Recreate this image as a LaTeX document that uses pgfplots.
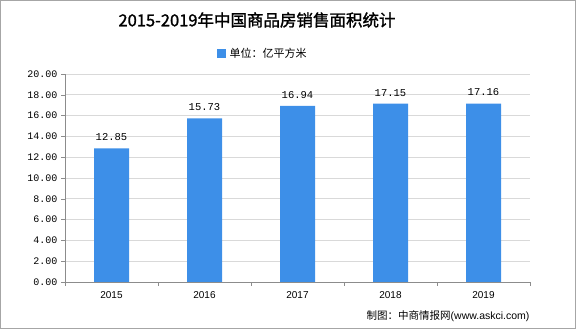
\documentclass[border=0pt]{standalone}
\usepackage{pgfplots}
\pgfplotsset{compat=1.18}
\usepackage{fontspec}
\setmainfont{Liberation Sans}
\newfontfamily\cjk{Noto Sans CJK SC}
\newfontfamily\cjkb[FakeBold=1.5]{Noto Sans CJK SC}
\newfontfamily\num{Liberation Mono}
\definecolor{barc}{HTML}{3D8FE8}
\definecolor{gridc}{HTML}{D9D9D9}
\definecolor{axc}{HTML}{8C8C8C}
\begin{document}
\begin{tikzpicture}[x=1pt,y=1pt]
\draw[color=gray!70, line width=1pt] (0.5,0.5) rectangle (575.5,328.5);
\node[font=\cjkb\fontsize{16.5}{18}\selectfont] at (257,309) {2015-2019年中国商品房销售面积统计};
\fill[barc] (217,271) rectangle (226,280);
\node[font=\cjk\fontsize{11}{12}\selectfont, anchor=west] at (226,275.5) {单位：亿平方米};
\node[anchor=east, font=\fontsize{10.5}{12}\selectfont] at (533,13) {{\cjk 制图：中商情报网}(www.askci.com)};
\begin{axis}[
  at={(65pt,47pt)}, anchor=south west,
  scale only axis, width=465pt, height=208pt,
  xmin=-0.5, xmax=4.5, ymin=0, ymax=20,
  ytick={0,2,...,20},
  yticklabel style={font=\num\fontsize{10}{12}\selectfont, /pgf/number format/fixed, /pgf/number format/fixed zerofill, /pgf/number format/precision=2, /pgf/number format/assume math mode=true},
  xtick={0,1,2,3,4},
  xticklabels={2015,2016,2017,2018,2019},
  xticklabel style={font=\fontsize{10}{12}\selectfont, yshift=-2pt},
  minor xtick={-0.5,0.5,1.5,2.5,3.5,4.5},
  tick align=outside,
  major tick length=4pt,
  minor tick length=4pt,
  x tick style={draw=none},
  minor x tick style={draw=axc},
  y tick style={draw=axc},
  ymajorgrids, grid style={gridc, line width=0.8pt},
  axis x line*=bottom, axis y line*=left,
  axis line style={axc, line width=0.8pt},
  x axis line style={-}, y axis line style={-},
  bar width=35pt,
  nodes near coords,
  nodes near coords style={font=\num\fontsize{10.5}{12}\selectfont, /pgf/number format/fixed, /pgf/number format/fixed zerofill, /pgf/number format/precision=2, /pgf/number format/assume math mode=true, yshift=4pt},
]
\addplot[ybar, fill=barc, draw=none] coordinates {(0,12.85) (1,15.73) (2,16.94) (3,17.15) (4,17.16)};
\end{axis}
\end{tikzpicture}
\end{document}
